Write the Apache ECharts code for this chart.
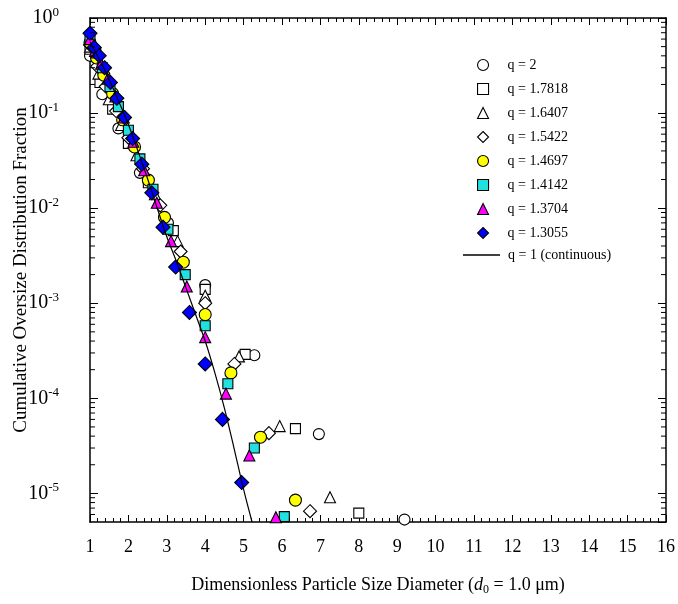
<!DOCTYPE html>
<html><head><meta charset="utf-8">
<script src="https://cdn.jsdelivr.net/npm/echarts@6/dist/echarts.min.js"></script>
<style>html,body{margin:0;padding:0;background:#fff}#c{width:678px;height:604px}</style>
</head><body><div id="c"></div><script>
// ---- data ----
const q2X = [1, 1.32, 1.74, 2.30, 3.03, 4.0, 5.28, 6.96, 9.19];
const q2Y = [0.40, 0.158, 0.069, 0.0235, 0.0070, 0.00155, 2.84e-4, 4.2e-5, 5.3e-6];

const q17818X = [1, 1.26, 1.59, 2.0, 2.52, 3.17, 4.0, 5.04, 6.35, 8.0];
const q17818Y = [0.47, 0.21, 0.11, 0.048, 0.0185, 0.0058, 0.0014, 2.9e-4, 4.8e-5, 6.2e-6];

const q16407X = [1, 1.22, 1.49, 1.81, 2.21, 2.69, 3.28, 4.0, 4.88, 5.94, 7.25];
const q16407Y = [0.50, 0.26, 0.14, 0.075, 0.036, 0.014, 4.5e-3, 1.2e-3, 2.76e-4, 5.1e-5, 9.1e-6];

const q15422X = [1, 1.19, 1.41, 1.68, 2.0, 2.38, 2.83, 3.36, 4.0, 4.76, 5.66, 6.73];
const q15422Y = [0.52, 0.31, 0.19, 0.105, 0.055, 0.026, 0.0107, 3.5e-3, 1.0e-3, 2.3e-4, 4.3e-5, 6.5e-6];

const q14697X = [1, 1.17, 1.36, 1.59, 1.85, 2.16, 2.52, 2.94, 3.43, 4.0, 4.67, 5.44, 6.35];
const q14697Y = [0.55, 0.38, 0.25, 0.16, 0.085, 0.044, 0.0197, 8.0e-3, 2.7e-3, 7.6e-4, 1.85e-4, 3.9e-5, 8.5e-6];

const q14142X = [1, 1.15, 1.32, 1.52, 1.74, 2.0, 2.30, 2.64, 3.03, 3.48, 4.0, 4.59, 5.28, 6.06];
const q14142Y = [0.60, 0.43, 0.30, 0.19, 0.117, 0.066, 0.033, 0.0158, 6.0e-3, 2.0e-3, 5.8e-4, 1.42e-4, 3.0e-5, 5.7e-6];

const q13704X = [1, 1.13, 1.29, 1.46, 1.66, 1.88, 2.13, 2.41, 2.74, 3.11, 3.52, 4.0, 4.54, 5.15, 5.84];
const q13704Y = [0.60, 0.45, 0.33, 0.23, 0.15, 0.09, 0.05, 0.025, 0.0114, 4.5e-3, 1.5e-3, 4.4e-4, 1.12e-4, 2.5e-5, 5.6e-6];

const q13055X = [1, 1.11, 1.24, 1.38, 1.53, 1.70, 1.90, 2.11, 2.35, 2.61, 2.90, 3.23, 3.59, 4.0, 4.45, 4.95];
const q13055Y = [0.69, 0.49, 0.40, 0.30, 0.21, 0.143, 0.090, 0.054, 0.029, 0.0145, 0.0063, 0.0024, 8.0e-4, 2.3e-4, 6.0e-5, 1.3e-5];

const contX = [1.0, 1.25, 1.5, 1.75, 2.0, 2.25, 2.5, 2.75, 3.0, 3.25, 3.5, 3.75, 4.0, 4.25, 4.5, 4.75, 5.0, 5.22];
const contY = [0.562, 0.363, 0.224, 0.132, 0.0759, 0.0398, 0.0204, 0.0100, 0.0050, 0.00275, 0.00145, 0.00076, 0.00040, 0.000186, 7.9e-5, 3.0e-5, 1.1e-5, 5.0e-6];

const seriesNames = ['q = 2', 'q = 1.7818', 'q = 1.6407', 'q = 1.5422', 'q = 1.4697', 'q = 1.4142', 'q = 1.3704', 'q = 1.3055', 'q = 1 (continuous)'];
const xTickLabels = ['1','2','3','4','5','6','7','8','9','10','11','12','13','14','15','16'];

const X_MIN = 1, X_MAX = 16, Y_MIN = 5e-6, Y_MAX = 1;
const minorMult = [2, 3, 4, 5, 6, 7, 8, 9];
const decades = [-6, -5, -4, -3, -2, -1];

// ---- build ----
const FONT = 'Liberation Serif';
const zip = (xs, ys) => xs.map((x, i) => [x, ys[i]]);
const minorData = [];
decades.forEach(d => minorMult.forEach(m => {
  const v = m * Math.pow(10, d);
  if (v > Y_MIN && v < Y_MAX) minorData.push([X_MIN, v]);
}));

function scatter(name, xs, ys, symbol, size, fill) {
  return {
    name, type: 'scatter', data: zip(xs, ys), symbol, symbolSize: size,
    itemStyle: { color: fill, borderColor: '#000', borderWidth: 1.1, opacity: 1 },
    emphasis: { disabled: true }, z: 3
  };
}

const chart = echarts.init(document.getElementById('c'), null, { renderer: 'canvas' });
const axisLine = { show: true, onZero: false, lineStyle: { color: '#000', width: 1.5 } };
chart.setOption({
  animation: false,
  backgroundColor: '#fff',
  textStyle: { fontFamily: FONT },
  grid: { left: 90, right: 12, top: 18, bottom: 82, containLabel: false, outerBoundsMode: 'none' },
  legend: [{
    data: seriesNames.slice(0, 8), orient: 'vertical', left: 472, top: 53,
    itemWidth: 11, itemHeight: 11, itemGap: 10, symbolKeepAspect: true,
    textStyle: { fontFamily: FONT, fontSize: 14, color: '#000', padding: [0, 0, 0, 14] },
    itemStyle: { borderWidth: 1.1, borderColor: '#000' },
    selectedMode: false
  }, {
    data: [{ name: seriesNames[8], icon: 'rect' }], orient: 'vertical', left: 458, top: 243,
    itemWidth: 37, itemHeight: 1.3,
    textStyle: { fontFamily: FONT, fontSize: 14, color: '#000', padding: [0, 0, 0, 3] },
    itemStyle: { color: '#000', borderWidth: 0 },
    selectedMode: false
  }],
  xAxis: [{
    type: 'value', min: X_MIN, max: X_MAX, interval: 1, position: 'bottom',
    axisLine, splitLine: { show: false },
    axisTick: { inside: true, length: 7, lineStyle: { color: '#000', width: 1 } },
    minorTick: { show: true, splitNumber: 5, length: 4, lineStyle: { color: '#000', width: 1 } },
    axisLabel: { margin: 16, fontFamily: FONT, fontSize: 18, color: '#000',
      formatter: v => xTickLabels[Math.round(v) - 1] || '' },
    name: '{n|Dimensionless Particle Size Diameter (}{i|d}{sub|0}{n| = 1.0 μm)}',
    nameLocation: 'middle', nameGap: 52, nameMoveOverlap: false,
    nameTextStyle: { rich: {
      n: { fontFamily: FONT, fontSize: 18, color: '#000', lineHeight: 22 },
      i: { fontFamily: FONT, fontSize: 18, fontStyle: 'italic', color: '#000', lineHeight: 22 },
      sub: { fontFamily: FONT, fontSize: 12, color: '#000', lineHeight: 12, verticalAlign: 'bottom' }
    } }
  }, {
    type: 'value', min: X_MIN, max: X_MAX, interval: 1, position: 'top',
    axisLine, splitLine: { show: false }, axisLabel: { show: false },
    axisTick: { inside: true, length: 7, lineStyle: { color: '#000', width: 1 } },
    minorTick: { show: true, splitNumber: 5, length: 4, lineStyle: { color: '#000', width: 1 } }
  }],
  yAxis: [{
    type: 'log', logBase: 10, min: Y_MIN, max: Y_MAX, position: 'left',
    axisLine, splitLine: { show: false }, minorTick: { show: false },
    axisTick: { inside: true, length: 8, lineStyle: { color: '#000', width: 1 } },
    axisLabel: {
      margin: 31, showMinLabel: false,
      formatter: v => {
        const e = Math.round(Math.log10(v));
        if (Math.abs(Math.log10(v) - e) > 1e-6) return '';
        return '{b|10}{s|' + e + '}';
      },
      rich: {
        b: { fontFamily: FONT, fontSize: 20, color: '#000', lineHeight: 24 },
        s: { fontFamily: FONT, fontSize: 13, color: '#000', lineHeight: 13, verticalAlign: 'top' }
      }
    },
    name: 'Cumulative Oversize Distribution Fraction',
    nameLocation: 'middle', nameGap: 59, nameRotate: 90, nameMoveOverlap: false,
    nameTextStyle: { fontFamily: FONT, fontSize: 19, color: '#000' }
  }, {
    type: 'log', logBase: 10, min: Y_MIN, max: Y_MAX, position: 'right',
    axisLine, splitLine: { show: false }, axisLabel: { show: false }, minorTick: { show: false },
    axisTick: { inside: true, length: 8, lineStyle: { color: '#000', width: 1 } }
  }],
  series: [
    {
      name: 'minorTicks', type: 'custom', silent: true, data: minorData, z: 5, clip: false,
      renderItem: (params, api) => {
        const v = api.value(1);
        const pL = api.coord([X_MIN, v]);
        const pR = api.coord([X_MAX, v]);
        return { type: 'group', children: [
          { type: 'line', shape: { x1: pL[0], y1: pL[1], x2: pL[0] + 5, y2: pL[1] }, style: { stroke: '#000', lineWidth: 1 } },
          { type: 'line', shape: { x1: pR[0], y1: pR[1], x2: pR[0] - 5, y2: pR[1] }, style: { stroke: '#000', lineWidth: 1 } }
        ] };
      }
    },
    scatter(seriesNames[0], q2X, q2Y, 'circle', 11, '#fff'),
    scatter(seriesNames[1], q17818X, q17818Y, 'rect', 10, '#fff'),
    scatter(seriesNames[2], q16407X, q16407Y, 'triangle', 11, '#fff'),
    scatter(seriesNames[3], q15422X, q15422Y, 'diamond', 13, '#fff'),
    scatter(seriesNames[4], q14697X, q14697Y, 'circle', 12, '#ffff00'),
    scatter(seriesNames[5], q14142X, q14142Y, 'rect', 10, '#22e0e0'),
    scatter(seriesNames[6], q13704X, q13704Y, 'triangle', 11, '#ff00ff'),
    scatter(seriesNames[7], q13055X, q13055Y, 'diamond', 14, '#0000ff'),
    {
      name: seriesNames[8], type: 'line', data: zip(contX, contY), symbol: 'none', smooth: 0.3,
      lineStyle: { color: '#000', width: 1.2 }, itemStyle: { color: '#000' }, z: 4,
      emphasis: { disabled: true }
    }
  ]
});
</script></body></html>
